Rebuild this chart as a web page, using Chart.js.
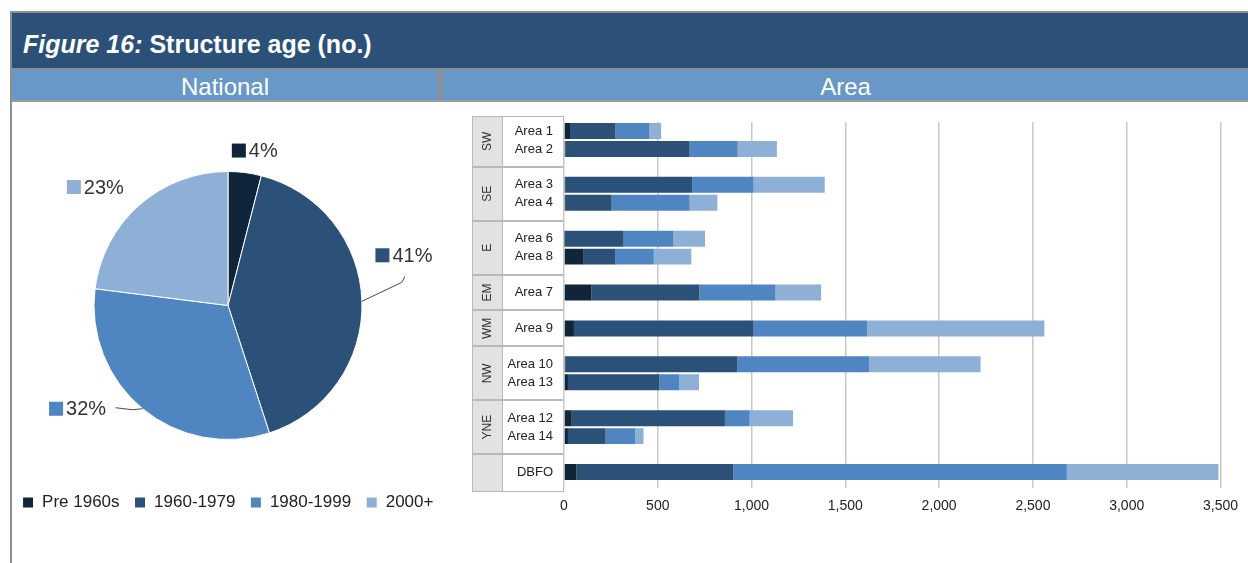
<!DOCTYPE html>
<html>
<head>
<meta charset="utf-8">
<title>Structure age</title>
<script src="https://cdn.jsdelivr.net/npm/chart.js@4/dist/chart.umd.min.js"></script>
<style>
  html, body { margin: 0; padding: 0; background: #fff; width: 1248px; height: 563px; overflow: hidden;
    font-family: "Liberation Sans", Arial, sans-serif; }
  .abs { position: absolute; }
  #frameTop { left: 10px; top: 11px; width: 1238px; height: 2px; background: #8e8e8e; }
  #frameLeft { left: 10px; top: 11px; width: 2px; height: 552px; background: #8e8e8e; }
  #titleBar { left: 12px; top: 13px; width: 1236px; height: 55px; background: #2c5178; }
  #titleText { left: 23px; top: 30px; font-size: 25px; line-height: 28px; font-weight: bold; color: #fff; white-space: nowrap; }
  #titleText i { font-style: italic; }
  #subLine1 { left: 12px; top: 68px; width: 1236px; height: 2px; background: #8a8f96; }
  #subBar { left: 12px; top: 70px; width: 1236px; height: 30px; background: #6898c7; }
  #subSep { left: 438px; top: 70px; width: 5px; height: 30px; background: #8c9096; }
  #subLine2 { left: 12px; top: 100px; width: 1236px; height: 2px; background: #9a9a9a; }
  .subText { top: 73px; font-size: 24px; line-height: 27px; color: #fff; text-align: center; white-space: nowrap; }
  #natText { left: 12px; width: 426px; }
  #areaText { left: 443px; width: 805px; }
  #pieCanvas { left: 0px; top: 102px; }
  #barCanvas { left: 443px; top: 102px; }
</style>
</head>
<body>
<div class="abs" id="frameTop"></div>
<div class="abs" id="frameLeft"></div>
<div class="abs" id="titleBar"></div>
<div class="abs" id="titleText"><i>Figure 16:</i> Structure age (no.)</div>
<div class="abs" id="subLine1"></div>
<div class="abs" id="subBar"></div>
<div class="abs" id="subSep"></div>
<div class="abs" id="subLine2"></div>
<div class="abs subText" id="natText">National</div>
<div class="abs subText" id="areaText">Area</div>
<canvas class="abs" id="pieCanvas" width="460" height="461"></canvas>
<canvas class="abs" id="barCanvas" width="805" height="461"></canvas>
<script>
// Age bands shared by both charts
const ageBands = ['Pre 1960s', '1960-1979', '1980-1999', '2000+'];
const bandColours = ['#10243a', '#2c5179', '#4f86c1', '#8eb0d7'];

// National split (% of structures)
const nationalShare = [4, 41, 32, 23];

// Areas (blank entries separate the regions)
const areaLabels = ['Area 1', 'Area 2', '', 'Area 3', 'Area 4', '', 'Area 6', 'Area 8', '', 'Area 7', '',
  'Area 9', '', 'Area 10', 'Area 13', '', 'Area 12', 'Area 14', '', 'DBFO'];
const pre1960s  = [32, 8, null, 6, 6, null, 3, 105, null, 147, null, 53, null, 8, 21, null, 41, 21, null, 65];
const from1960  = [243, 662, null, 677, 248, null, 315, 170, null, 575, null, 958, null, 917, 488, null, 817, 201, null, 838];
const from1980  = [181, 256, null, 328, 416, null, 266, 204, null, 406, null, 606, null, 701, 106, null, 132, 158, null, 1778];
const from2000  = [62, 209, null, 379, 148, null, 168, 200, null, 243, null, 944, null, 595, 105, null, 231, 44, null, 808];

// Regions and the areas they contain
const regionNames = ['SW', 'SE', 'E', 'EM', 'WM', 'NW', 'YNE', ''];
const regionAreas = [['Area 1', 'Area 2'], ['Area 3', 'Area 4'], ['Area 6', 'Area 8'], ['Area 7'],
  ['Area 9'], ['Area 10', 'Area 13'], ['Area 12', 'Area 14'], ['DBFO']];

// x axis
const axisMax = 3500;
const axisStep = 500;

const FONT = '"Liberation Sans", Arial, sans-serif';
Chart.defaults.font.family = FONT;
Chart.defaults.color = '#222';

// ---------- Pie: percentage labels with colour keys ----------
const labelPlacement = [
  { dx: 10, dy: -22 },
  { dx: 42, dy: -46, leader: [[-2, 27], [1, 21]] },
  { dx: -65, dy: 0, leader: [[55, 1], [38, -1]] },
  { dx: -44, dy: -18 }
];

const pieLabels = {
  id: 'pieLabels',
  afterDatasetsDraw(chart) {
    const ctx = chart.ctx;
    const meta = chart.getDatasetMeta(0);
    const values = chart.data.datasets[0].data;
    ctx.save();
    ctx.font = '20px ' + FONT;
    ctx.textBaseline = 'middle';
    meta.data.forEach((arc, i) => {
      const p = arc.getProps(['x', 'y', 'startAngle', 'endAngle', 'outerRadius'], true);
      const mid = (p.startAngle + p.endAngle) / 2;
      const ex = p.x + Math.cos(mid) * p.outerRadius;
      const ey = p.y + Math.sin(mid) * p.outerRadius;
      const place = labelPlacement[i];
      const cx = ex + place.dx, cy = ey + place.dy;
      if (place.leader) {
        ctx.strokeStyle = '#4a4a4a';
        ctx.lineWidth = 1;
        ctx.beginPath();
        ctx.moveTo(ex, ey);
        place.leader.forEach(([lx, ly]) => ctx.lineTo(cx + lx, cy + ly));
        ctx.stroke();
      }
      const text = values[i] + '%';
      const tw = ctx.measureText(text).width;
      const key = 14, gap = 3;
      const left = cx - (key + gap + tw) / 2;
      ctx.fillStyle = bandColours[i];
      ctx.fillRect(left, cy - key / 2, key, key);
      ctx.fillStyle = '#333';
      ctx.textAlign = 'left';
      ctx.fillText(text, left + key + gap, cy + 1);
    });
    ctx.restore();
  }
};

new Chart(document.getElementById('pieCanvas'), {
  type: 'pie',
  data: {
    labels: ageBands,
    datasets: [{
      data: nationalShare,
      backgroundColor: bandColours,
      borderColor: '#ffffff',
      borderWidth: 1,
      radius: 134
    }]
  },
  options: {
    responsive: false,
    animation: false,
    devicePixelRatio: 1,
    layout: { padding: { top: 30, bottom: 42, left: 0, right: 4 } },
    plugins: {
      tooltip: { enabled: false },
      legend: {
        position: 'bottom',
        labels: {
          font: { size: 17, family: FONT },
          color: '#222',
          boxWidth: 11,
          boxHeight: 11,
          padding: 15
        }
      }
    }
  },
  plugins: [pieLabels]
});

// ---------- Bar: region / area panel on the category axis ----------
const regionPanel = {
  id: 'regionPanel',
  beforeDraw(chart) {
    const ctx = chart.ctx;
    const area = chart.chartArea;
    const y = chart.scales.y;
    const groupLeft = area.left - 92, areaLeft = area.left - 62, right = area.left - 1;
    const top = area.top - 6, bottom = area.bottom + 10;
    // region boundaries at the spacer rows
    const spans = regionAreas.map(list => ({
      first: areaLabels.indexOf(list[0]),
      last: areaLabels.indexOf(list[list.length - 1])
    }));
    const edges = [top];
    for (let k = 1; k < spans.length; k++) {
      edges.push((y.getPixelForValue(spans[k - 1].last) + y.getPixelForValue(spans[k].first)) / 2);
    }
    edges.push(bottom);

    ctx.save();
    ctx.fillStyle = '#e2e2e2';
    ctx.fillRect(groupLeft, top, areaLeft - groupLeft, bottom - top);
    ctx.fillStyle = '#ffffff';
    ctx.fillRect(areaLeft, top, right - areaLeft, bottom - top);

    ctx.strokeStyle = '#b9b9b9';
    ctx.lineWidth = 1;
    ctx.strokeRect(groupLeft + 0.5, top + 0.5, right - groupLeft, bottom - top);
    ctx.beginPath();
    ctx.moveTo(areaLeft + 0.5, top);
    ctx.lineTo(areaLeft + 0.5, bottom);
    ctx.stroke();
    ctx.lineWidth = 2;
    for (let k = 1; k < edges.length - 1; k++) {
      ctx.beginPath();
      ctx.moveTo(groupLeft, Math.round(edges[k]));
      ctx.lineTo(right + 1, Math.round(edges[k]));
      ctx.stroke();
    }

    ctx.fillStyle = '#333';
    ctx.font = '12px ' + FONT;
    ctx.textAlign = 'center';
    ctx.textBaseline = 'middle';
    regionNames.forEach((name, k) => {
      if (!name) return;
      const cy = (edges[k] + edges[k + 1]) / 2;
      ctx.save();
      ctx.translate((groupLeft + areaLeft) / 2 + 1, cy);
      ctx.rotate(-Math.PI / 2);
      ctx.fillText(name, 0, 0);
      ctx.restore();
    });
    ctx.restore();
  }
};

const bandSeries = [pre1960s, from1960, from1980, from2000];

new Chart(document.getElementById('barCanvas'), {
  type: 'bar',
  data: {
    labels: areaLabels,
    datasets: bandSeries.map((values, i) => ({
      label: ageBands[i],
      data: values,
      backgroundColor: bandColours[i],
      borderWidth: 0,
      barPercentage: 0.89,
      categoryPercentage: 1
    }))
  },
  options: {
    indexAxis: 'y',
    responsive: false,
    animation: false,
    devicePixelRatio: 1,
    layout: { padding: { top: 20, right: 26, left: 0, bottom: 0 } },
    plugins: { legend: { display: false }, tooltip: { enabled: false } },
    scales: {
      x: {
        stacked: true,
        min: 0,
        max: axisMax,
        ticks: {
          stepSize: axisStep,
          padding: 10,
          color: '#222',
          font: { size: 14, family: FONT },
          callback: v => Number(v).toLocaleString('en-US')
        },
        grid: { color: '#c8c8c8', lineWidth: 1.5, tickLength: 7, tickColor: '#c8c8c8' },
        border: { display: false },
        afterFit(scale) { scale.height = 82; }
      },
      y: {
        stacked: true,
        ticks: {
          padding: 3,
          color: '#222',
          font: { size: 13, family: FONT },
          autoSkip: false
        },
        grid: { display: false },
        border: { display: false },
        afterFit(scale) { scale.width = 121; }
      }
    }
  },
  plugins: [regionPanel]
});
</script>
</body>
</html>
